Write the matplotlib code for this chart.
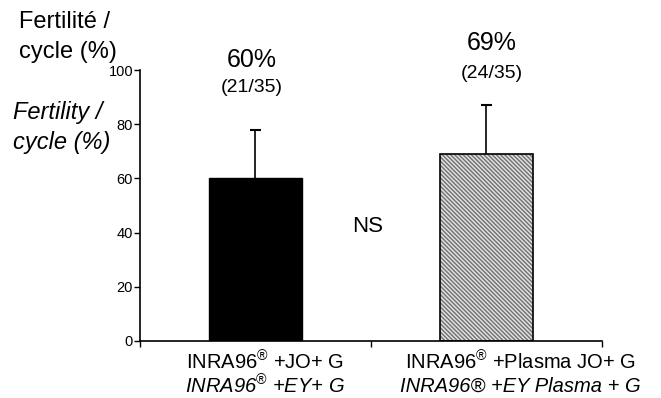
import matplotlib
matplotlib.use("Agg")
import matplotlib.pyplot as plt
import numpy as np

plt.rcParams['font.family'] = ['Liberation Sans', 'DejaVu Sans']
plt.rcParams['mathtext.fontset'] = 'custom'
plt.rcParams['mathtext.rm'] = 'Liberation Sans'
plt.rcParams['mathtext.it'] = 'Liberation Sans:italic'
plt.rcParams['hatch.linewidth'] = 1.0

# Data
groups = ["JO", "Plasma JO"]
values = [60, 69]
errors = [18, 18]
pct_labels = ["60%", "69%"]
count_labels = ["(21/35)", "(24/35)"]
yticks = [0, 20, 40, 60, 80, 100]
cat_line1 = [r"INRA96$^{®}$ +JO+ G", r"INRA96$^{®}$ +Plasma JO+ G"]
cat_line2 = [r"INRA96$^{®}$ +EY+ G", "INRA96® +EY Plasma + G"]

W, H = 661, 398
fig = plt.figure(figsize=(W / 100, H / 100), dpi=100)
ax = fig.add_axes([140 / W, 1 - 341 / H, (602 - 140) / W, (341 - 70) / H])

x = np.arange(len(groups))
width = 0.4
# bar 1 solid black
ax.bar(x[0], values[0], width=width, color='black', edgecolor='black', linewidth=1, zorder=2)
# bar 2 hatched gray
ax.bar(x[1], values[1], width=width, color='#e0e0e0', edgecolor='#707070',
       hatch='\\\\\\\\\\\\\\\\', linewidth=0, zorder=2)
ax.bar(x[1], values[1], width=width, fill=False, edgecolor='black', linewidth=1.2, zorder=3)

# upper error bars only
tops = [v + e for v, e in zip(values, errors)]
ax.vlines(x, values, tops, color='black', linewidth=1.2, zorder=1)
ax.hlines(tops, x - 0.022, x + 0.022, color='black', linewidth=1.5, zorder=1)

ax.set_xlim(-0.5, 1.5)
ax.set_ylim(0, 100)
ax.set_yticks(yticks)
ax.set_yticklabels([str(t) for t in yticks], fontsize=10.5)
ax.set_xticks([-0.5, 0.5, 1.5])
ax.set_xticklabels([])
ax.tick_params(axis='y', direction='out', length=4, width=1, pad=1)
ax.tick_params(axis='x', direction='out', length=4, width=1)
for s in ['top', 'right']:
    ax.spines[s].set_visible(False)
for s in ['left', 'bottom']:
    ax.spines[s].set_linewidth(1.2)

def fx(px):
    return px / W

def fy(py):
    return 1 - py / H

# y-axis titles
fig.text(fx(19), fy(22), "Fertilité /", fontsize=17, ha='left', va='center')
fig.text(fx(19), fy(52), "cycle (%)", fontsize=17, ha='left', va='center')
fig.text(fx(13), fy(113), "Fertility /", fontsize=17, ha='left', va='center', style='italic')
fig.text(fx(13), fy(142), "cycle (%)", fontsize=17, ha='left', va='center', style='italic')

# annotations above bars
pct_pos = [(252, 60, 88), (492, 43, 73)]
for i in range(len(groups)):
    px, y1, y2 = pct_pos[i]
    fig.text(fx(px), fy(y1), pct_labels[i], fontsize=18, ha='center', va='center')
    fig.text(fx(px), fy(y2), count_labels[i], fontsize=14, ha='center', va='center')

fig.text(fx(368), fy(226), "NS", fontsize=16, ha='center', va='center')

# category labels
cat_x = [265, 520]
for i in range(len(groups)):
    fig.text(fx(cat_x[i]), fy(362), cat_line1[i], fontsize=14.5, ha='center', va='center')
    fig.text(fx(cat_x[i]), fy(386), cat_line2[i], fontsize=14.5, ha='center', va='center', style='italic')

fig.savefig("out.png", dpi=100)
